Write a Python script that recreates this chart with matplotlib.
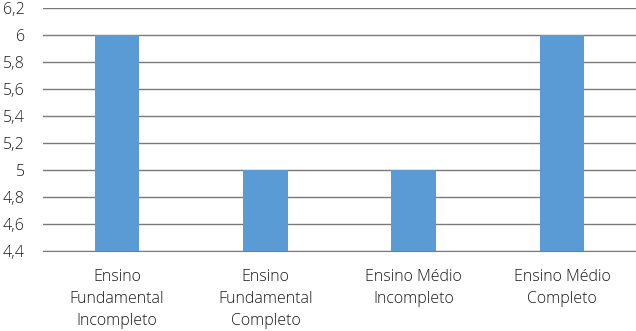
import matplotlib.pyplot as plt
from matplotlib.ticker import FuncFormatter

categories = ["Ensino\nFundamental\nIncompleto", "Ensino\nFundamental\nCompleto",
              "Ensino Médio\nIncompleto", "Ensino Médio\nCompleto"]
values = [6, 5, 5, 6]
y_ticks = [4.4, 4.6, 4.8, 5.0, 5.2, 5.4, 5.6, 5.8, 6.0, 6.2]

plt.rcParams['font.family'] = ['Open Sans', 'DejaVu Sans']

fig = plt.figure(figsize=(6.36, 3.31), dpi=100)
ax = fig.add_axes([43 / 636, 80 / 331, 593 / 636, 243 / 331])

x = range(len(categories))
ax.bar(x, values, width=0.3, color='#5b9bd5', zorder=3)
ax.set_xlim(-0.5, len(categories) - 0.5)
ax.set_ylim(4.4, 6.2)
ax.set_yticks(y_ticks)
ax.yaxis.set_major_formatter(FuncFormatter(lambda v, p: f"{v:g}".replace('.', ',')))
ax.set_xticks(list(x))
ax.set_xticklabels(categories, linespacing=1.5)

ax.grid(axis='y', color='#7a7a7a', linewidth=1, zorder=0)
for s in ['top', 'right', 'left']:
    ax.spines[s].set_visible(False)
ax.spines['bottom'].set_color('#7a7a7a')
ax.tick_params(axis='both', length=0, labelsize=11.5, colors='#1a1a1a')
ax.tick_params(axis='y', pad=13)
ax.tick_params(axis='x', pad=13)
for lbl in ax.get_xticklabels() + ax.get_yticklabels():
    lbl.set_fontweight('light')

fig.savefig('out.png', dpi=100)
